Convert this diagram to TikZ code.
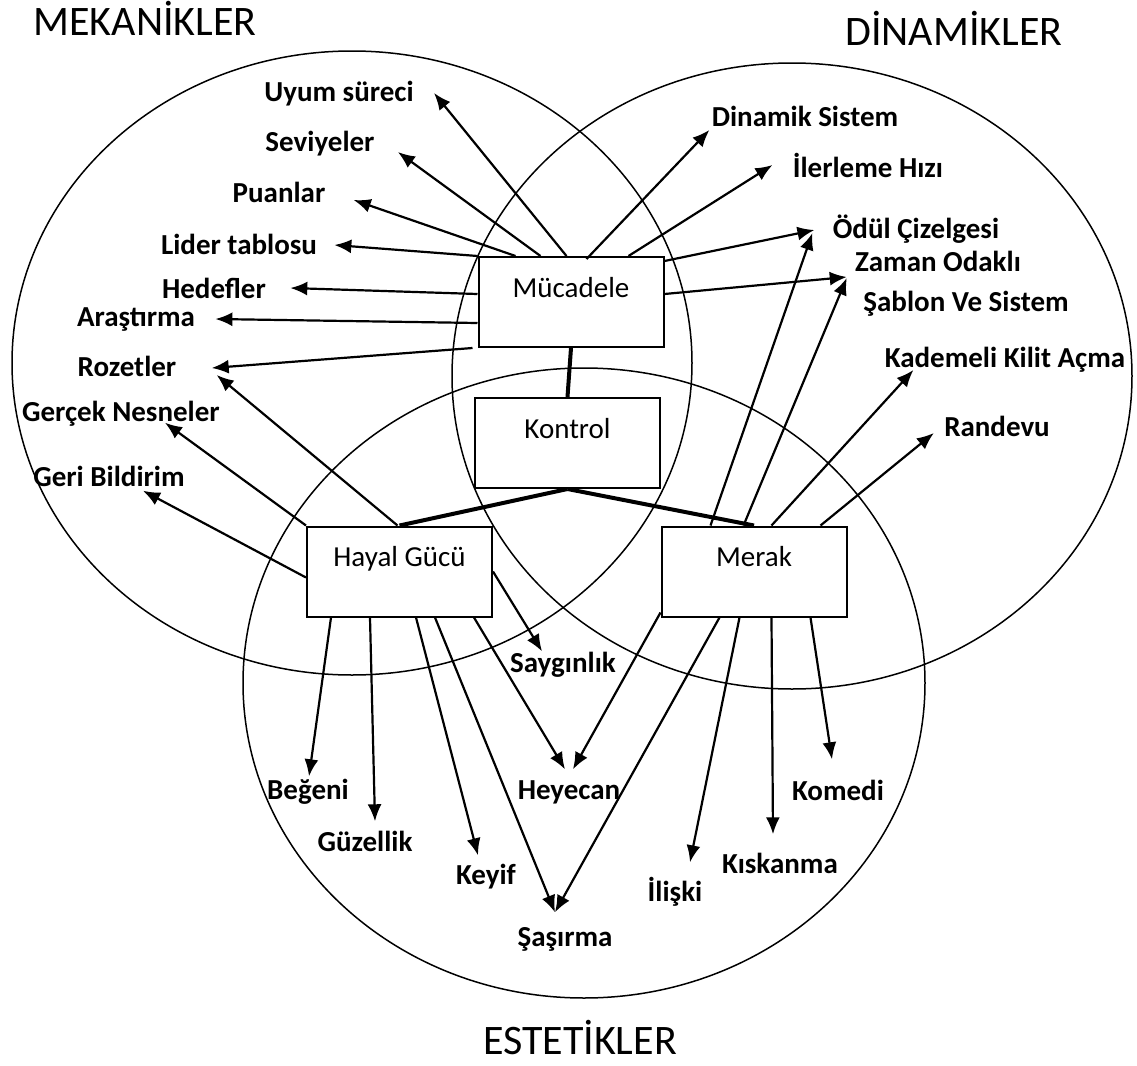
\documentclass[tikz,border=0pt]{standalone}
\usepackage{fontspec}
\setmainfont{Carlito}
\usetikzlibrary{arrows.meta,calc}

\begin{document}
\begin{tikzpicture}[x=0.5pt, y=-0.5pt,
    ring/.style={line width=0.75pt},
    box/.style={draw, line width=1pt, fill=white, minimum width=92.5pt,
        inner sep=0pt, text height=20pt, text depth=25pt,
        font=\fontsize{14.5}{17}\selectfont},
    lbl/.style={inner sep=0pt, text height=9.3pt, text depth=0pt,
        font=\bfseries\fontsize{14.5}{17}\selectfont},
    ttl/.style={inner sep=0pt, text height=13.5pt, text depth=0pt,
        font=\fontsize{21}{25}\selectfont},
    arr/.style={line width=1.1pt, -{Latex[length=8.5pt,width=7pt]}},
    link/.style={line width=2pt}]
    \useasboundingbox (0,0) rectangle (1137,1066);

    % the three sets
    \draw[ring] (352,363) ellipse [x radius=340, y radius=312];
    \draw[ring] (792,376) ellipse [x radius=340, y radius=313];
    \draw[ring] (584,683) ellipse [x radius=341, y radius=315];

    \node[ttl] (mek) at (145,22) {MEKANİKLER};
    \node[ttl] (din) at (954,32) {DİNAMİKLER};
    \node[ttl] (est) at (580,1041) {ESTETİKLER};

    % boxes
    \node[box] (muc) at (571,302) {Mücadele};
    \node[box] (kon) at (567.5,443) {Kontrol};
    \node[box] (hay) at (399.5,571.5) {Hayal Gücü};
    \node[box] (mer) at (754,571.5) {Merak};

    % mechanics
    \node[lbl] (uyum) at (339,92) {Uyum süreci};
    \node[lbl] (sev) at (320,142) {Seviyeler};
    \node[lbl] (puan) at (279,193) {Puanlar};
    \node[lbl] (lider) at (239,245) {Lider tablosu};
    \node[lbl] (hedef) at (214,289) {Hedefler};
    \node[lbl] (aras) at (136,317) {Araştırma};
    \node[lbl] (rozet) at (127,367) {Rozetler};
    \node[lbl] (gercek) at (121,412) {Gerçek Nesneler};
    \node[lbl] (geri) at (109,477) {Geri Bildirim};

    % dynamics
    \node[lbl] (dinsis) at (805,117) {Dinamik Sistem};
    \node[lbl] (ilerleme) at (868,168) {İlerleme Hızı};
    \node[lbl] (odul) at (916,229) {Ödül Çizelgesi};
    \node[lbl] (zaman) at (938,262) {Zaman Odaklı};
    \node[lbl] (sablon) at (966,302) {Şablon Ve Sistem};
    \node[lbl] (kademe) at (1005,358) {Kademeli Kilit Açma};
    \node[lbl] (randevu) at (997,427) {Randevu};

    % aesthetics
    \node[lbl] (saygin) at (563,663) {Saygınlık};
    \node[lbl] (begeni) at (308,790) {Beğeni};
    \node[lbl] (guzel) at (365,842) {Güzellik};
    \node[lbl] (keyif) at (486,875) {Keyif};
    \node[lbl] (sasir) at (565,937) {Şaşırma};
    \node[lbl] (heyecan) at (569,790) {Heyecan};
    \node[lbl] (komedi) at (838,791) {Komedi};
    \node[lbl] (kiskan) at (780,864) {Kıskanma};
    \node[lbl] (iliski) at (675,892) {İlişki};

    % Mücadele
    \draw[arr] ($(muc.north west)+(89,0)$) -- ($(uyum.east)+(20,1)$);
    \draw[arr] ($(muc.north west)+(63,0)$) -- ($(sev.east)+(23,10)$);
    \draw[arr] ($(muc.north west)+(38,0)$) -- ($(puan.east)+(28,7)$);
    \draw[arr] (muc.north west) -- ($(lider.east)+(17,0)$);
    \draw[arr] ($(muc.north west)+(0,38)$) -- ($(hedef.east)+(24,-1)$);
    \draw[arr] ($(muc.north west)+(0,67)$) -- ($(aras.east)+(20,2)$);
    \draw[arr] ($(muc.south west)+(-5,0)$) -- ($(rozet.east)+(35,1)$);
    \draw[arr] ($(muc.north west)+(109,3)$) -- ($(dinsis.west)+(-2,13)$);
    \draw[arr] ($(muc.north west)+(151,0)$) -- ($(ilerleme.west)+(-20,-3)$);
    \draw[arr] ($(muc.north east)+(0,5)$) -- ($(odul.west)+(-18,1)$);
    \draw[arr] ($(muc.north east)+(0,38)$) -- ($(zaman.west)+(-8,15)$);

    % Merak
    \draw[arr] ($(mer.north west)+(50,0)$) -- ($(odul.west)+(-20,4)$);
    \draw[arr] ($(mer.north west)+(83,0)$) -- ($(zaman.west)+(-8,16)$);
    \draw[arr] ($(mer.north west)+(111,0)$) -- ($(kademe.west)+(29,12)$);
    \draw[arr] ($(mer.north west)+(160,0)$) -- ($(randevu.west)+(-10,6)$);
    \draw[arr] ($(mer.south west)+(0,-5)$) -- ($(heyecan.north)+(4,-11)$);
    \draw[arr] ($(mer.south west)+(59,0)$) -- ($(sasir.north)+(-10,-15)$);
    \draw[arr] ($(mer.south west)+(79,0)$) -- ($(iliski.north)+(15,-20)$);
    \draw[arr] ($(mer.south west)+(111,0)$) -- ($(kiskan.north)+(-7,-20)$);
    \draw[arr] ($(mer.south west)+(150,0)$) -- ($(komedi.north)+(-6,-22)$);

    % Hayal Gücü
    \draw[arr] (hay.north west) -- ($(gercek.south)+(44,1)$);
    \draw[arr] ($(hay.north)+(-2,0)$) -- ($(rozet.east)+(40,8)$);
    \draw[arr] ($(hay.north west)+(0,52)$) -- ($(geri.south)+(34,4)$);
    \draw[arr] (hay.east) -- ($(saygin.north)+(-21,-2)$);
    \draw[arr] ($(hay.south west)+(25,0)$) -- ($(begeni.north)+(1,-4)$);
    \draw[arr] ($(hay.south west)+(64,0)$) -- ($(guzel.north)+(10,-11)$);
    \draw[arr] ($(hay.south west)+(110,0)$) -- ($(keyif.north)+(-8,-10)$);
    \draw[arr] ($(hay.south west)+(129,0)$) -- ($(sasir.north)+(-10,-15)$);
    \draw[arr] ($(hay.south west)+(168,0)$) -- ($(heyecan.north)+(-4,-11)$);

    % Kontrol links
    \draw[link] (muc.south) -- (kon.north);
    \draw[link] (kon.south) -- (hay.north);
    \draw[link] (kon.south) -- (mer.north);
\end{tikzpicture}
\end{document}
